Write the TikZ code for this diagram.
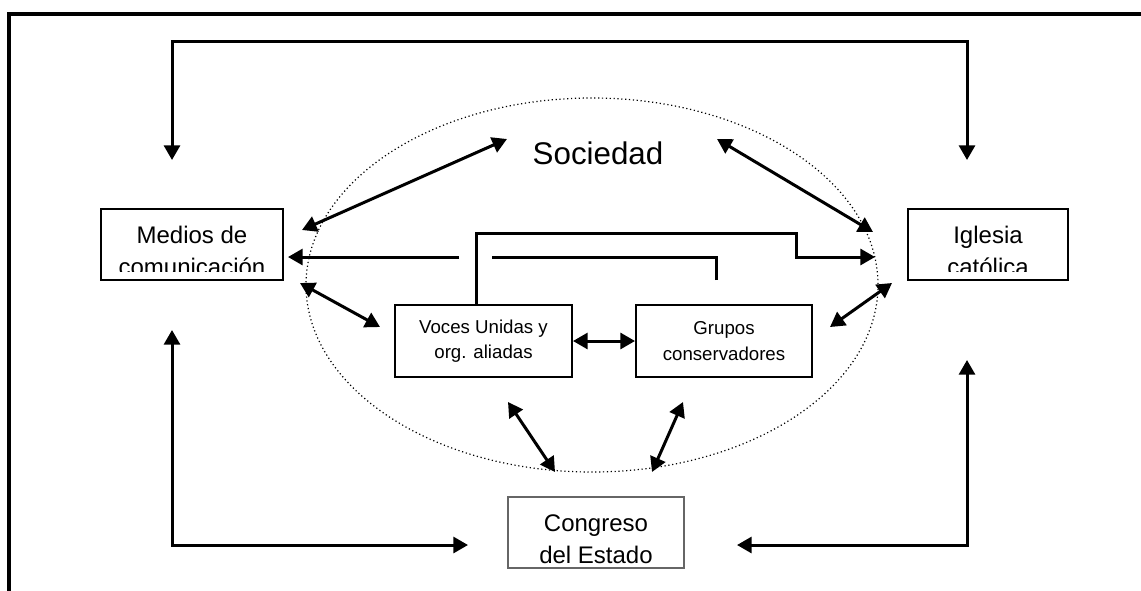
\documentclass[tikz,border=0pt]{standalone}
\usepackage{fontspec}
\setmainfont{Liberation Sans}
\usetikzlibrary{arrows.meta}
\begin{document}
\begin{tikzpicture}[x=0.75pt,y=-0.75pt,
  box/.style={draw,line width=1.5pt,inner sep=0pt},
  conn/.style={line width=2.25pt,-{Triangle[length=11pt,width=12pt]}},
  dconn/.style={line width=2.25pt,{Triangle[length=11pt,width=12pt]}-{Triangle[length=11pt,width=12pt]}},
  plain/.style={line width=2.25pt},
  bigtxt/.style={font=\fontsize{18}{24}\selectfont,align=center,inner sep=0pt},
  smalltxt/.style={font=\fontsize{14}{19}\selectfont,align=center,inner sep=0pt}]
\useasboundingbox (0,0) rectangle (1141,590);
% frame
\draw[line width=3pt] (9,600) -- (9,14) -- (1150,14);
% ellipse
\draw[dotted,line width=0.9pt] (592,285) ellipse [x radius=286, y radius=187];
% boxes
\node[box,minimum width=136.5pt,minimum height=53.25pt] (medios) at (192,244.5) {};
\node[box,minimum width=120pt,minimum height=53.25pt] (iglesia) at (988,244.5) {};
\node[box,minimum width=132.75pt,minimum height=54pt] (voces) at (483.5,341) {};
\node[box,minimum width=132pt,minimum height=54pt] (grupos) at (724,341) {};
\node[draw=black!60,line width=0.9pt,minimum width=132pt,minimum height=53.25pt,inner sep=0pt] (congreso) at (596,532.5) {};
% texts
\begin{scope}
\clip (101,209) rectangle (283,271);
\node[bigtxt] (tmedios) at (192,251) {Medios de\\comunicación};
\end{scope}
\begin{scope}
\clip (908,209) rectangle (1068,271);
\node[bigtxt] (tiglesia) at (988,251) {Iglesia\\católica};
\end{scope}
\begin{scope}
\clip (508,497) rectangle (684,563);
\node[bigtxt] (tcongreso) at (596,539) {Congreso\\del Estado};
\end{scope}
\node[smalltxt] (tvoces) at (483.5,341) {Voces Unidas y\\org. aliadas};
\node[smalltxt] (tgrupos) at (724,341) {Grupos\\conservadores};
\node[font=\fontsize{23.5}{28}\selectfont,inner sep=0pt] (soc) at (598,153) {Sociedad};
% coordinates
\coordinate (tl) at (172,160);
\coordinate (tr) at (967,160);
\coordinate (bl) at (172,330);
\coordinate (br) at (967,360);
\coordinate (cl) at (468,545);
\coordinate (cr) at (737,545);
\coordinate (ms1) at (302,230);
\coordinate (ms2) at (507,139);
\coordinate (si1) at (717,139);
\coordinate (si2) at (873,232);
\coordinate (mv1) at (300,283);
\coordinate (mv2) at (380,327);
\coordinate (ig1) at (892,283);
\coordinate (ig2) at (830,327);
\coordinate (vc1) at (508,402);
\coordinate (vc2) at (555,472);
\coordinate (gc1) at (683,402);
\coordinate (gc2) at (652,472);
\coordinate (li) at (875,257);
\coordinate (lm) at (288,257);
% top loop
\draw[dconn] (tl) -- (172,41) -- (967,41) -- (tr);
% bottom
\draw[dconn] (bl) -- (172,545) -- (cl);
\draw[dconn] (br) -- (967,545) -- (cr);
% diagonals
\draw[dconn] (ms1) -- (ms2);
\draw[dconn] (si1) -- (si2);
\draw[dconn] (mv1) -- (mv2);
\draw[dconn] (ig1) -- (ig2);
\draw[dconn] (vc1) -- (vc2);
\draw[dconn] (gc1) -- (gc2);
\draw[dconn] (voces.east) -- (grupos.west);
% inner lines
\draw[conn] (voces.north -| 476,0) -- (476,233) -- (796,233) -- (796,257) -- (li);
\draw[plain] (716,280) -- (716,257) -- (492,257);
\draw[conn] (459,257) -- (lm);
\end{tikzpicture}
\end{document}
